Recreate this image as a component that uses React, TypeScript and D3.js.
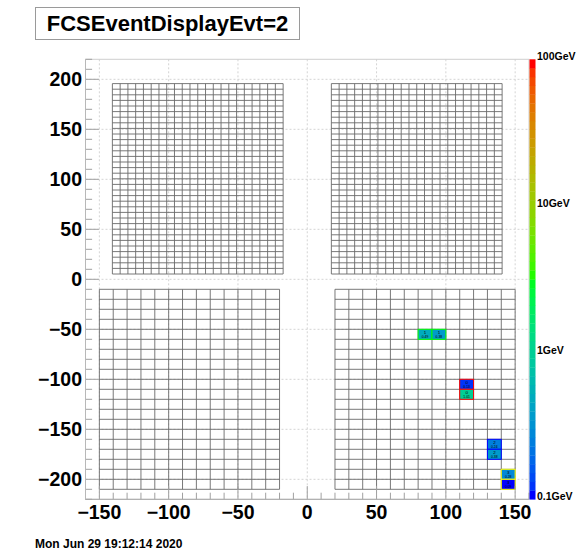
import React from "react";
import * as d3 from "d3";

const W = 585;
const H = 551;

// axis ranges and ticks
const xDomain = [-160, 160];
const yDomain = [-220, 220];
const xMajorTicks = [-150, -100, -50, 0, 50, 100, 150];
const yMajorTicks = [-200, -150, -100, -50, 0, 50, 100, 150, 200];
const minorStep = 10;

// colour scale (log, GeV)
const paletteValues = [0.1, 1, 10, 100];
const paletteLabels = ["0.1GeV", "1GeV", "10GeV", "100GeV"];
const nPaletteColors = 50;

// detector geometry (cm)
const ecalCols = 22;
const ecalRows = 34;
const ecalCell = 5.6;
const ecalX0 = [-140.6, 17.4];
const ecalY0 = 5.3;
const hcalCols = 13;
const hcalRows = 20;
const hcalCell = 10;
const hcalX0 = [-150, 20];
const hcalYTop = -10;

// hits (right HCal)
const hitCol = [6, 7, 9, 9, 11, 11, 12, 12];
const hitRow = [4, 4, 9, 10, 15, 16, 18, 19];
const hitCluster = [1, 1, 0, 0, 2, 2, 3, 3];
const hitEnergy = [0.49, 0.38, 0.13, 1.01, 0.24, 0.38, 0.28, 0.09];
const clusterColors = ["#ff0000", "#00ff00", "#0000ff", "#ffff00"];

const titleText = "FCSEventDisplayEvt=2";
const dateText = "Mon Jun 29 19:12:14 2020";

const FONT = "'Liberation Sans', Arial, Helvetica, sans-serif";

function palette(t: number): string {
  if (t < 0.5) return d3.rgb(0, Math.sqrt(2 * t) * 255, Math.sqrt(1 - 2 * t) * 255).formatHex();
  return d3.rgb(Math.sqrt(2 * t - 1) * 255, Math.sqrt(2 - 2 * t) * 255, 0).formatHex();
}

export default function App() {
  const fl = 85.5, fr = 529, ft = 59.3, fb = 499.3;
  const x = d3.scaleLinear().domain(xDomain).range([fl, fr]);
  const y = d3.scaleLinear().domain(yDomain).range([fb, ft]);
  const eScale = d3.scaleLog().domain([0.1, 100]).range([0, 1]).clamp(true);
  const pY = d3.scaleLog().domain([0.1, 100]).range([fb, ft]);

  const colorFor = (e: number) => {
    const idx = Math.min(nPaletteColors - 1, Math.floor(eScale(e) * nPaletteColors));
    return palette(idx / (nPaletteColors - 1));
  };

  const xMinor = d3.range(xDomain[0], xDomain[1] + 0.001, minorStep);
  const yMinor = d3.range(yDomain[0], yDomain[1] + 0.001, minorStep);

  const gridLines: React.ReactNode[] = [];
  const cellStroke = "#6a6a6a";
  ecalX0.forEach((x0, k) => {
    for (let i = 0; i <= ecalCols; i++) {
      const xv = x(x0 + i * ecalCell);
      gridLines.push(
        <line key={`ev${k}-${i}`} x1={xv} x2={xv} y1={y(ecalY0)} y2={y(ecalY0 + ecalRows * ecalCell)} stroke={cellStroke} strokeWidth={0.9} />
      );
    }
    for (let j = 0; j <= ecalRows; j++) {
      const yv = y(ecalY0 + j * ecalCell);
      gridLines.push(
        <line key={`eh${k}-${j}`} x1={x(x0)} x2={x(x0 + ecalCols * ecalCell)} y1={yv} y2={yv} stroke={cellStroke} strokeWidth={0.9} />
      );
    }
  });
  hcalX0.forEach((x0, k) => {
    for (let i = 0; i <= hcalCols; i++) {
      const xv = x(x0 + i * hcalCell);
      gridLines.push(
        <line key={`hv${k}-${i}`} x1={xv} x2={xv} y1={y(hcalYTop)} y2={y(hcalYTop - hcalRows * hcalCell)} stroke={cellStroke} strokeWidth={0.9} />
      );
    }
    for (let j = 0; j <= hcalRows; j++) {
      const yv = y(hcalYTop - j * hcalCell);
      gridLines.push(
        <line key={`hh${k}-${j}`} x1={x(x0)} x2={x(x0 + hcalCols * hcalCell)} y1={yv} y2={yv} stroke={cellStroke} strokeWidth={0.9} />
      );
    }
  });

  const hits = hitCol.map((c, i) => {
    const x0 = hcalX0[1] + c * hcalCell;
    const yTopV = hcalYTop - hitRow[i] * hcalCell;
    const px = x(x0);
    const py = y(yTopV);
    const w = x(x0 + hcalCell) - px;
    const h = y(yTopV - hcalCell) - py;
    return (
      <g key={`hit${i}`}>
        <rect x={px} y={py} width={w} height={h} fill={colorFor(hitEnergy[i])} stroke={clusterColors[hitCluster[i]]} strokeWidth={1} />
        <text x={px + w / 2} y={py + 4.6} fontSize={4.4} textAnchor="middle" fontFamily={FONT} fill="#000">{hitCluster[i]}</text>
        <text x={px + w / 2} y={py + 8.6} fontSize={3.4} textAnchor="middle" fontFamily={FONT} fill="#000">{hitEnergy[i].toFixed(2)}</text>
      </g>
    );
  });

  const fmt = (v: number) => (v < 0 ? "\u2212" + Math.abs(v) : String(v));
  const bands = d3.range(nPaletteColors);
  const bandH = (fb - ft) / nPaletteColors;

  return (
    <svg width={W} height={H} style={{ position: "absolute", left: 0, top: 0, background: "#fff" }}>
      <rect x={0} y={0} width={W} height={H} fill="#ffffff" />
      {xMajorTicks.map((t) => (
        <line key={`gx${t}`} x1={x(t)} x2={x(t)} y1={ft} y2={fb} stroke="#d4d4d4" strokeWidth={1} strokeDasharray="2,2" />
      ))}
      {yMajorTicks.map((t) => (
        <line key={`gy${t}`} x1={fl} x2={fr} y1={y(t)} y2={y(t)} stroke="#d4d4d4" strokeWidth={1} strokeDasharray="2,2" />
      ))}
      {gridLines}
      {hits}
      <rect x={fl} y={ft} width={fr - fl} height={fb - ft} fill="none" stroke="#cfcfcf" strokeWidth={1} />
      {yMinor.map((t) => {
        const major = yMajorTicks.includes(t);
        return <line key={`yt${t}`} x1={fl} x2={fl + (major ? 13.3 : 6.6)} y1={y(t)} y2={y(t)} stroke="#a0a0a0" strokeWidth={1} />;
      })}
      {xMinor.map((t) => {
        const major = xMajorTicks.includes(t);
        return <line key={`xt${t}`} x1={x(t)} x2={x(t)} y1={fb} y2={fb - (major ? 13.2 : 6.6)} stroke="#a0a0a0" strokeWidth={1} />;
      })}
      <line x1={fl} x2={fr} y1={fb} y2={fb} stroke="#a8a8a8" strokeWidth={1} />
      <line x1={fl} x2={fl} y1={ft} y2={fb} stroke="#b8b8b8" strokeWidth={1} />
      {yMajorTicks.map((t) => (
        <text key={`yl${t}`} x={82} y={y(t) + 7} textAnchor="end" fontFamily={FONT} fontWeight="bold" fontSize={19.5} fill="#000">{fmt(t)}</text>
      ))}
      {xMajorTicks.map((t) => (
        <text key={`xl${t}`} x={x(t)} y={519} textAnchor="middle" fontFamily={FONT} fontWeight="bold" fontSize={19.5} fill="#000">{fmt(t)}</text>
      ))}
      {bands.map((i) => (
        <rect key={`pb${i}`} x={529.5} y={fb - (i + 1) * bandH} width={6} height={bandH + 0.3} fill={palette(i / (nPaletteColors - 1))} />
      ))}
      {paletteValues.map((v, i) => (
        <text key={`pl${i}`} x={537} y={pY(v) + 1} fontFamily={FONT} fontWeight="bold" fontSize={10.5} fill="#000">{paletteLabels[i]}</text>
      ))}
      <rect x={35.5} y={7.5} width={264} height={32} fill="#fff" stroke="#9a9a9a" strokeWidth={1} />
      <text x={167.5} y={31} textAnchor="middle" fontFamily={FONT} fontWeight="bold" fontSize={22} fill="#000">{titleText}</text>
      <text x={35} y={548} fontFamily={FONT} fontWeight="bold" fontSize={12} fill="#000">{dateText}</text>
    </svg>
  );
}
